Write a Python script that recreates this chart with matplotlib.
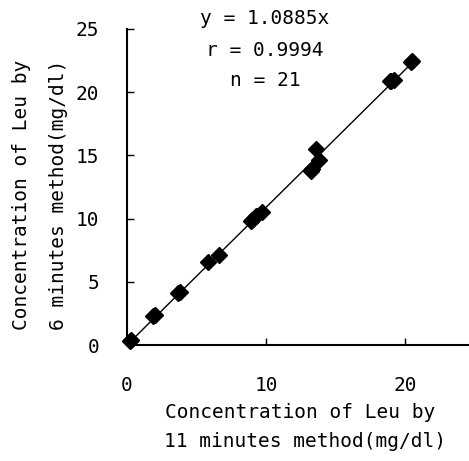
import matplotlib
matplotlib.use("Agg")
import matplotlib.pyplot as plt
import numpy as np

plt.rcParams["font.family"] = "DejaVu Sans Mono"

# data (11 min method vs 6 min method), mg/dl
x_11min = [0.2, 0.3, 1.9, 2.0, 3.7, 3.8, 5.8, 6.6, 8.9, 9.0, 9.3, 9.7,
           13.2, 13.3, 13.6, 13.8, 18.9, 19.0, 19.2, 20.4, 20.5]
y_6min = [0.3, 0.4, 2.3, 2.4, 4.1, 4.2, 6.6, 7.1, 9.8, 9.9, 10.2, 10.5,
          13.8, 13.9, 15.5, 14.6, 20.9, 20.9, 21.0, 22.4, 22.5]
slope = 1.0885
x_ticks = [0, 10, 20]
y_ticks = [0, 5, 10, 15, 20, 25]
stats_lines = ["y = 1.0885x", "r = 0.9994", "n = 21"]

fig = plt.figure(figsize=(4.69, 4.61), dpi=100)
ax = fig.add_axes([127 / 469, 1 - 345 / 461, 1 - 127 / 469, (345 - 29) / 461])

# regression line through origin
line_x = np.array([0, max(x_11min)])
ax.plot(line_x, slope * line_x, color="black", lw=1)
ax.plot(x_11min, y_6min, "D", color="black", markersize=8, clip_on=False)

ax.set_xlim(0, 24.6)
ax.set_ylim(0, 25)
ax.set_xticks(x_ticks)
ax.set_yticks(y_ticks)
ax.spines["top"].set_visible(False)
ax.spines["right"].set_visible(False)
ax.spines["left"].set_linewidth(1.5)
ax.spines["bottom"].set_linewidth(1.5)
ax.tick_params(direction="in", length=5, width=1, labelsize=14)
ax.tick_params(axis="x", pad=22)
ax.tick_params(axis="y", pad=20)

# stats text above the line
for i, s in enumerate(stats_lines):
    fig.text(265 / 469, 1 - (19 + 31 * i) / 461, s, ha="center", va="center",
             fontsize=14)

fig.text(300 / 469, 1 - 412 / 461, "Concentration of Leu by", ha="center",
         va="center", fontsize=14)
fig.text(305 / 469, 1 - 441 / 461, "11 minutes method(mg/dl)", ha="center",
         va="center", fontsize=14)
fig.text(22 / 469, 1 - 195 / 461, "Concentration of Leu by", ha="center",
         va="center", rotation=90, fontsize=14)
fig.text(58 / 469, 1 - 195 / 461, "6 minutes method(mg/dl)", ha="center",
         va="center", rotation=90, fontsize=14)

fig.savefig("out.png", dpi=100)
